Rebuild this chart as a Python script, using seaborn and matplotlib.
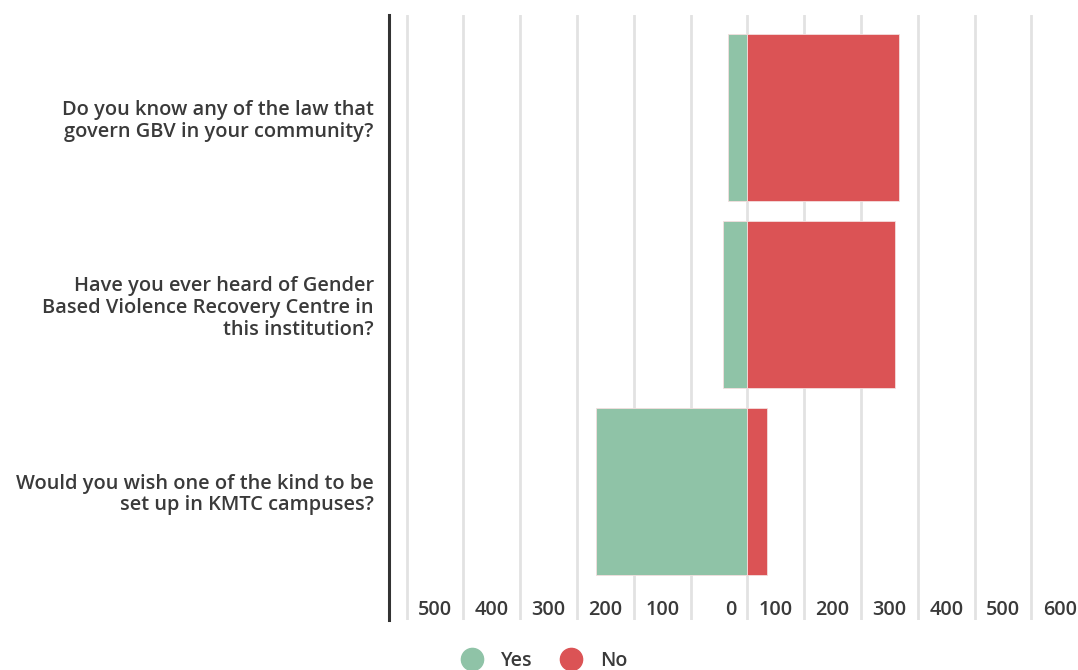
import pandas as pd
import matplotlib.pyplot as plt
import seaborn as sns
from matplotlib.lines import Line2D

questions = [
    "Do you know any of the law that\ngovern GBV in your community?",
    "Have you ever heard of Gender\nBased Violence Recovery Centre in\nthis institution?",
    "Would you wish one of the kind to be\nset up in KMTC campuses?",
]
yes_counts = [34, 43, 267]
no_counts = [267, 260, 35]

tick_pos = [-550, -450, -350, -250, -150, -29, 50, 150, 250, 350, 450, 550]
tick_labels = ["500", "400", "300", "200", "100", "0",
               "100", "200", "300", "400", "500", "600"]
grid_pos = list(range(-600, 600, 100))

GREEN = "#8fc3a7"
RED = "#db5355"
TEXT = "#3a3a3a"

sns.set_style("white")
plt.rcParams["font.family"] = ["Open Sans", "DejaVu Sans"]
plt.rcParams["font.weight"] = "semibold"

df = pd.DataFrame({
    "question": questions * 2,
    "answer": ["Yes"] * 3 + ["No"] * 3,
    "value": [-v for v in yes_counts] + no_counts,
})

fig = plt.figure(figsize=(10.78, 6.70), dpi=100)
ax = fig.add_axes([389 / 1078, 1 - 620 / 670, 1 - 389 / 1078, 605 / 670])

sns.barplot(data=df, x="value", y="question", hue="answer", dodge=False,
            palette={"Yes": GREEN, "No": RED}, saturation=1, width=0.895,
            orient="h", edgecolor="#f4dede", linewidth=0.6, legend=False,
            ax=ax, zorder=3)

ax.set_xlim(-631, 582)
ax.set_ylim(2.69, -0.55)

# light vertical grid
ax.set_xticks(grid_pos, minor=True)
ax.grid(axis="x", which="minor", color="#e2e2e2", linewidth=2, zorder=0)
ax.grid(axis="x", which="major", visible=False)
ax.set_xticks(tick_pos)
ax.set_xticklabels(tick_labels)
ax.tick_params(axis="x", which="both", length=0, pad=-14.5, labelsize=14.3,
               labelcolor=TEXT)
ax.tick_params(axis="y", length=0, pad=11, labelsize=14.4, labelcolor=TEXT)
for lab in ax.get_yticklabels():
    lab.set_linespacing(1.12)

for side in ["top", "right", "bottom"]:
    ax.spines[side].set_visible(False)
ax.spines["left"].set_color("#333333")
ax.spines["left"].set_linewidth(2.2)

ax.set_xlabel("")
ax.set_ylabel("")

handles = [
    Line2D([], [], marker="o", linestyle="", markersize=16,
           markerfacecolor=GREEN, markeredgecolor=GREEN, label="Yes"),
    Line2D([], [], marker="o", linestyle="", markersize=16,
           markerfacecolor=RED, markeredgecolor=RED, label="No"),
]
fig.legend(handles=handles, loc="center", bbox_to_anchor=(0.501, 1 - 661 / 670),
           ncol=2, frameon=False, fontsize=14, handletextpad=0.5,
           columnspacing=1.0, labelcolor=TEXT)

fig.savefig("out.png", dpi=100)
